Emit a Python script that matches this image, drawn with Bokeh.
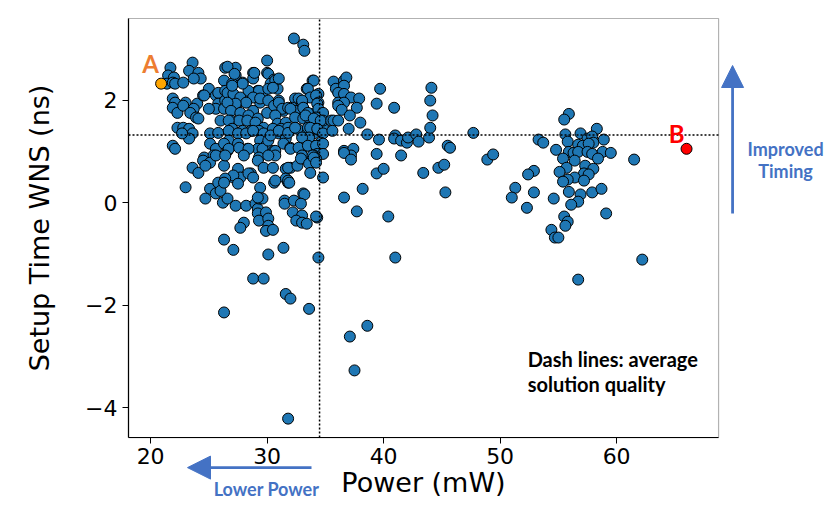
from bokeh.plotting import figure
from bokeh.models import Range1d, FixedTicker, Label, BoxAnnotation, ColumnDataSource
from bokeh.embed import file_html
from bokeh.resources import INLINE

# ---------------- data (Power mW, Setup Time WNS ns) ----------------
left_pts = [
    (21.7,2.63),(21.5,2.48),(22.0,2.44),(21.4,2.32),(21.9,2.34),(22.1,2.32),(22.8,2.34),(23.6,2.73),(23.3,2.57),(24.1,2.53),(24.3,2.42),(23.7,2.42),
    (21.9,2.03),(22.1,1.95),(21.9,1.85),(22.3,1.75),(23.0,1.95),(22.8,1.89),(24.0,1.93),(23.7,1.83),(23.4,1.75),(23.9,1.66),(24.1,1.64),(24.5,2.09),
    (25.0,2.22),(24.6,2.09),(25.6,2.09),(25.8,2.14),(25.8,1.93),(25.6,1.83),(25.0,1.83),
    (22.3,1.46),(22.8,1.46),(23.3,1.44),(23.6,1.35),(23.3,1.25),(22.7,1.35),(21.9,1.11),(22.1,1.05),(25.1,1.35),(25.8,1.36),(25.1,1.15),(25.6,1.05),
    (24.6,0.88),(25.4,0.92),(23.0,0.30),(23.6,0.68),(24.1,0.58),(24.5,0.82),(25.1,0.78),(24.7,0.72),(25.1,0.27),(24.7,0.08),(25.6,0.18),(25.6,0.92),
]
mid_left_pts = [
    (26.4,2.63),(27.3,2.63),(27.3,2.48),(26.3,2.38),(27.0,2.32),(27.9,2.34),(28.8,2.53),(28.8,2.42),(30.0,2.77),(30.0,2.53),(26.6,2.65),(27.2,2.51),(28.9,2.53),(30.1,2.51),
    (26.4,2.18),(26.4,1.99),(26.3,1.83),(26.9,1.93),(27.5,1.95),(28.3,2.03),(29.2,2.18),(29.6,2.12),(29.4,1.95),(26.6,2.14),(27.1,2.12),(28.4,2.18),(29.3,2.18),
    (28.8,2.05),(29.4,2.03),(27.7,2.05),(28.2,1.95),(27.3,1.93),(26.6,1.95),(26.9,1.79),(27.7,1.75),(28.8,1.79),(28.4,1.70),(29.2,1.64),(30.0,1.75),(27.9,2.32),(27.0,2.28),
    (26.0,1.60),(26.9,1.60),(27.6,1.60),(28.3,1.60),(29.0,1.56),(29.7,1.46),(26.7,1.60),(27.0,1.44),(27.9,1.40),(28.6,1.40),(29.3,1.40),
    (26.7,1.40),(27.5,1.35),(28.2,1.35),(28.8,1.40),(29.7,1.35),(26.7,1.21),(29.4,1.21),
    (26.3,1.15),(26.6,1.01),(27.5,1.15),(28.3,1.05),(29.2,1.05),(29.9,1.11),(26.7,1.05),(27.6,1.07),(28.4,1.05),(29.6,1.05),(29.3,0.88),(28.0,0.92),
    (26.3,0.72),(26.4,0.92),(27.5,0.66),(27.1,0.49),(27.7,0.49),(28.6,0.57),(29.2,0.82),(29.7,0.68),(27.1,0.53),(27.5,0.37),(28.4,0.57),(28.8,0.49),
    (25.8,0.39),(26.4,0.47),(26.0,0.23),(26.2,0.0),(26.6,0.08),(26.3,0.39),
    (27.3,-0.06),(28.2,-0.06),(28.0,-0.39),(27.7,-0.49),(26.3,-0.72),(27.1,-0.92),(29.0,-0.02),(29.2,-0.12),(29.2,-0.21),(29.3,-0.35),(29.9,-0.19),
    (29.4,0.29),(29.3,0.08),(29.6,0.08),(29.2,0.10),(28.8,-1.48),(29.7,-1.48),(26.3,-2.14),
]
mid_pts = [
    (30.6,2.40),(30.3,2.32),(30.9,2.22),(30.1,2.22),(30.7,2.38),(31.0,2.42),(30.5,2.24),(32.3,3.20),(33.1,3.08),(33.2,2.96),(33.9,2.38),(34.0,2.38),(33.4,2.22),(33.8,2.09),(34.4,2.12),
    (30.1,1.99),(31.0,1.99),(31.4,1.79),(32.4,2.03),(32.7,1.85),(33.5,2.22),(30.6,1.89),(31.0,1.95),(31.3,1.83),(31.8,1.85),(32.2,1.85),(32.4,1.79),(32.7,2.03),
    (33.0,1.95),(33.7,2.05),(34.2,2.09),(34.4,1.95),(33.3,1.75),(33.9,1.73),(34.6,1.73),(30.7,1.70),(33.0,1.99),(33.1,1.85),(33.5,1.75),(34.3,1.93),(34.4,1.83),(34.8,1.75),
    (30.9,1.54),(31.6,1.56),(32.0,1.83),(32.4,1.66),(33.1,1.64),(33.7,1.54),(34.2,1.66),(34.8,1.46),(34.8,1.60),(33.3,1.40),(34.0,1.35),(33.3,1.70),(34.0,1.64),(34.6,1.60),
    (30.5,1.44),(31.2,1.44),(31.8,1.46),(32.6,1.44),(33.5,1.46),(34.2,1.44),(31.0,1.35),(31.6,1.25),(30.1,1.21),(30.3,1.31),(31.0,1.40),(31.8,1.36),(32.4,1.46),
    (33.7,1.46),(34.3,1.44),(34.8,1.35),(33.6,1.27),(33.0,1.27),
    (30.6,1.01),(31.4,1.15),(32.0,1.07),(33.0,1.05),(33.9,1.07),(34.6,1.17),(30.7,1.01),(32.0,1.05),(32.7,1.07),(33.5,1.11),(34.2,1.11),(34.3,0.95),(33.0,0.92),
    (34.8,1.15),(34.0,0.92),(34.8,0.95),
    (30.5,0.68),(30.7,0.92),(30.1,0.92),(30.6,0.39),(31.6,0.66),(32.0,0.68),(31.6,0.47),(31.8,0.39),(31.8,0.43),(31.9,0.39),(30.7,0.43),(31.8,0.68),
    (32.6,0.72),(32.9,0.86),(33.6,0.76),(33.9,0.92),(34.2,0.86),(33.7,0.58),(34.0,0.88),(34.2,0.78),(34.8,0.49),
    (33.1,0.18),(33.2,0.16),(31.5,0.04),(31.5,-0.02),(32.3,0.04),(32.2,-0.19),(32.9,-0.02),(33.0,-0.25),(32.5,-0.35),(33.0,-0.39),(33.4,-0.41),(34.3,-0.29),(34.2,-0.27),
    (30.1,-0.31),(30.1,-0.45),(29.9,-0.55),(30.5,-0.53),
    (30.1,-1.01),(31.4,-0.88),(34.4,-1.07),(31.6,-1.78),(32.0,-1.87),(33.6,-2.07),(31.8,-4.21),
]
mid_right_pts = [
    (35.7,2.36),(35.9,2.22),(36.6,2.38),(36.8,2.44),(36.6,2.28),(36.1,2.14),(36.6,2.12),(37.2,2.05),(36.1,1.95),(36.6,1.95),(36.1,1.89),(36.4,1.81),(37.9,2.03),
    (37.7,1.85),(37.1,1.70),(38.0,1.56),(37.0,1.44),(35.5,1.60),(35.7,1.60),(36.1,1.60),(35.6,1.40),
    (36.6,1.01),(37.4,1.05),(37.2,0.92),(36.6,0.97),(37.2,0.84),(39.7,2.22),(39.4,1.93),(40.9,1.85),(38.6,1.33),(39.6,1.23),(39.4,0.95),(41.0,1.31),(40.9,1.25),
    (41.5,1.21),(42.0,1.17),(42.1,1.27),(42.8,1.33),(43.0,1.19),(41.5,0.92),(43.9,1.27),(44.0,1.46),(44.2,1.70),(44.0,1.99),(44.1,2.24),(45.5,1.11),(45.7,1.07),
    (39.4,0.57),(40.0,0.66),(38.2,0.27),(36.6,0.10),(37.7,-0.17),(40.4,-0.27),(41.0,-1.07),(43.4,0.58),(44.7,0.68),(45.2,0.74),(45.3,0.20),
    (37.1,-2.61),(38.6,-2.40),(37.5,-3.27),
    (47.7,1.36),(48.9,0.84),(49.4,0.94),
]
right_pts = [
    (55.9,1.73),(55.5,1.62),(58.3,1.44),(55.6,1.33),(56.9,1.35),(53.3,1.23),(53.7,1.17),(55.8,1.19),(57.5,1.25),(57.9,1.29),(58.0,1.17),(58.9,1.23),
    (56.7,1.13),(57.1,1.11),(57.6,1.15),(54.8,1.03),(55.9,0.99),(56.3,0.97),(56.7,0.99),(57.5,0.99),(57.9,0.95),(58.8,0.99),(59.5,0.97),(58.4,0.86),
    (55.4,0.86),(56.4,0.82),(61.5,0.84),(55.7,0.68),(57.3,0.72),(58.0,0.66),(55.1,0.60),(52.9,0.62),(52.4,0.55),(57.2,0.57),(57.6,0.55),(56.4,0.49),
    (57.2,0.43),(55.8,0.45),(55.4,0.41),(51.3,0.29),(52.9,0.20),(51.0,0.10),(52.3,-0.10),(54.6,0.08),(55.9,0.21),(56.9,0.16),(57.9,0.20),(58.7,0.27),
    (56.7,0.02),(56.1,-0.04),(59.1,-0.21),(55.5,-0.27),(55.8,-0.37),(55.6,-0.45),(54.4,-0.53),(54.7,-0.68),(55.0,-0.68),(62.2,-1.11),(56.7,-1.50),
]
point_a = (20.9, 2.32)
point_b = (66.0, 1.05)
avg_power = 34.5
avg_wns = 1.32
x_ticks = [20, 30, 40, 50, 60]
y_ticks = [-4, -2, 0, 2]

all_pts = left_pts + mid_left_pts + mid_pts + mid_right_pts + right_pts
power_mw = [p[0] for p in all_pts]
wns_ns = [p[1] for p in all_pts]

# ---------------- layout ----------------
W, H = 828, 505                 # canvas; the frame fills it so that notes outside the axes box are drawn
PX_X, PX_Y = 11.65, 51.3        # pixels per data unit
X_LO, X_HI = 18.1, 68.75        # axes box (data)
Y_LO, Y_HI = -4.58, 3.59
x0 = X_LO - 128 / PX_X          # data value at the canvas left edge
y1 = Y_HI + 18 / PX_Y           # data value at the canvas top edge

BLUE_NOTE = "#4472C4"
NOTE_FONT = "Lato"

p = figure(width=W, height=H, output_backend="svg", toolbar_location=None,
           x_range=Range1d(x0, x0 + W / PX_X), y_range=Range1d(y1 - H / PX_Y, y1),
           min_border=0)
p.grid.visible = False
p.outline_line_color = None
p.background_fill_color = "white"
p.border_fill_color = "white"

# axes box (spines)
p.add_layout(BoxAnnotation(left=X_LO, right=X_HI, bottom=Y_LO, top=Y_HI,
                           fill_alpha=0, line_color="black", line_width=1.2))

src = ColumnDataSource(dict(x=power_mw, y=wns_ns))
p.scatter("x", "y", source=src, size=11, fill_color="#1f77b4", line_color="black", line_width=1)
p.scatter([point_a[0]], [point_a[1]], size=11, fill_color="#FFA500", line_color="black", line_width=1)
p.scatter([point_b[0]], [point_b[1]], size=11, fill_color="#FF0000", line_color="black", line_width=1)

# average lines
p.segment(x0=[avg_power, X_LO], y0=[Y_LO, avg_wns], x1=[avg_power, X_HI], y1=[Y_HI, avg_wns],
          line_color="black", line_dash="2 2", line_width=1.5)

# axes, placed on the box edges
p.xaxis.fixed_location = Y_LO
p.yaxis.fixed_location = X_LO
p.xaxis.bounds = (X_LO, X_HI)
p.yaxis.bounds = (Y_LO, Y_HI)
for ax in (p.xaxis, p.yaxis):
    ax.major_label_text_font = "DejaVu Sans"
    ax.major_label_text_font_size = "22px"
    ax.major_label_text_color = "black"
    ax.axis_label_text_font = "DejaVu Sans"
    ax.axis_label_text_font_size = "27px"
    ax.axis_label_text_font_style = "normal"
    ax.axis_label_text_color = "black"
    ax.minor_tick_line_color = None
    ax.major_tick_in = 0
    ax.major_tick_out = 6
    ax.axis_line_color = "black"
    ax.axis_line_width = 1.2
p.xaxis.ticker = FixedTicker(ticks=x_ticks)
p.yaxis.ticker = FixedTicker(ticks=y_ticks)
p.yaxis.major_label_overrides = {t: (f"\u2212{abs(t)}" if t < 0 else str(t)) for t in y_ticks}
p.xaxis.axis_label = "Power (mW)"
p.yaxis.axis_label = "Setup Time WNS (ns)"
p.xaxis.major_label_standoff = 4
p.xaxis.axis_label_standoff = 0
p.yaxis.major_label_standoff = 5
p.yaxis.axis_label_standoff = 27

def note(x, y, text, color, size, align="center"):
    p.add_layout(Label(x=x, y=y, text=text, text_color=color, text_font=NOTE_FONT,
                       text_font_style="bold", text_font_size=size,
                       text_align=align, text_baseline="middle"))

# point labels
note(20.0, 2.71, "A", "#ED7D31", "24px")
note(65.15, 1.35, "B", "#FF0000", "24px")

# note inside the box
note(52.36, -3.04, "Dash lines: average", "black", "20px", "left")
note(52.36, -3.53, "solution quality", "black", "20px", "left")

# "Improved Timing" arrow (right of the box)
ax_x = X_HI + 14 / PX_X
p.segment(x0=[ax_x], y0=[Y_HI - 195 / PX_Y], x1=[ax_x], y1=[Y_HI - 68 / PX_Y],
          line_color=BLUE_NOTE, line_width=2.8)
p.patch(x=[ax_x - 11 / PX_X, ax_x + 11 / PX_X, ax_x],
        y=[Y_HI - 69 / PX_Y, Y_HI - 69 / PX_Y, Y_HI - 47 / PX_Y],
        fill_color=BLUE_NOTE, line_color=BLUE_NOTE, line_width=1)
note(X_HI + 67 / PX_X, Y_HI - 130 / PX_Y, "Improved", BLUE_NOTE, "18px")
note(X_HI + 67 / PX_X, Y_HI - 152 / PX_Y, "Timing", BLUE_NOTE, "18px")

# "Lower Power" arrow (below the box)
ay = Y_LO - 30 / PX_Y
p.segment(x0=[X_LO + 81 / PX_X], y0=[ay], x1=[X_LO + 183 / PX_X], y1=[ay],
          line_color=BLUE_NOTE, line_width=2.8)
p.patch(x=[X_LO + 59 / PX_X, X_LO + 82 / PX_X, X_LO + 82 / PX_X],
        y=[ay, ay + 11.5 / PX_Y, ay - 11.5 / PX_Y],
        fill_color=BLUE_NOTE, line_color=BLUE_NOTE, line_width=1)
note(X_LO + 138 / PX_X, Y_LO - 51 / PX_Y, "Lower Power", BLUE_NOTE, "18px")

open("out.html", "w").write(file_html(p, INLINE))
